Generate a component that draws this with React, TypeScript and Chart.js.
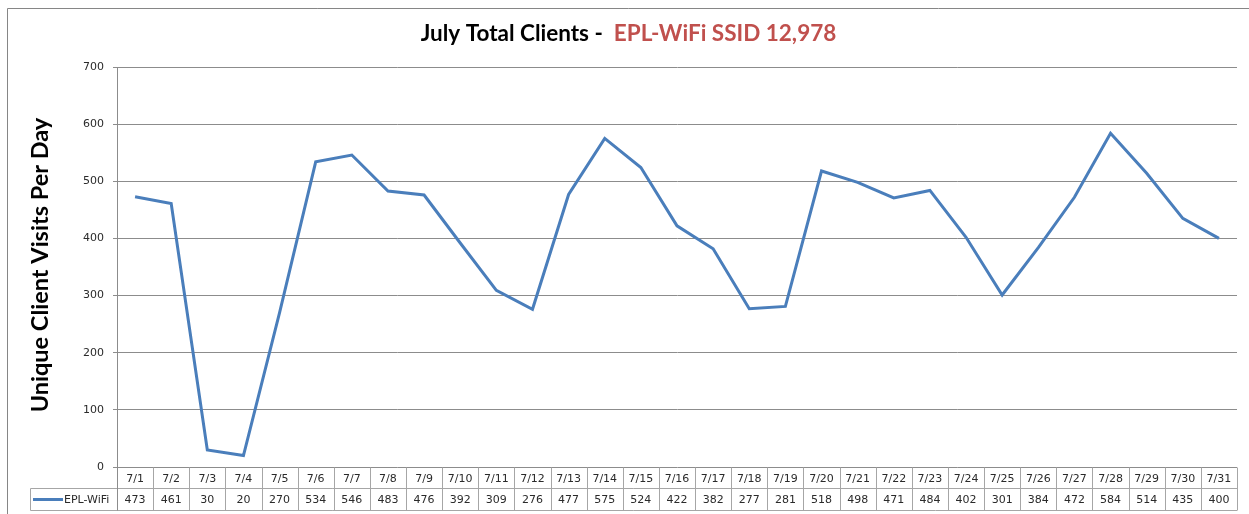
import React, { useEffect, useRef } from "react";
import { Chart, registerables } from "chart.js";

Chart.register(...registerables);

const categories = [
  "7/1", "7/2", "7/3", "7/4", "7/5", "7/6", "7/7", "7/8", "7/9", "7/10",
  "7/11", "7/12", "7/13", "7/14", "7/15", "7/16", "7/17", "7/18", "7/19", "7/20",
  "7/21", "7/22", "7/23", "7/24", "7/25", "7/26", "7/27", "7/28", "7/29", "7/30", "7/31",
];
const seriesName = "EPL-WiFi";
const values = [
  473, 461, 30, 20, 270, 534, 546, 483, 476, 392,
  309, 276, 477, 575, 524, 422, 382, 277, 281, 518,
  498, 471, 484, 402, 301, 384, 472, 584, 514, 435, 400,
];
const yMin = 0;
const yMax = 700;
const yStep = 100;
const titleMain = "July Total Clients -  ";
const titleHighlight = "EPL-WiFi SSID 12,978";
const yAxisTitle = "Unique Client Visits Per Day";

const LINE_COLOR = "#4A7EBB";
const GRID_COLOR = "#8C8C8C";
const TABLE_COLOR = "#A6A6A6";
const TEXT_COLOR = "#2A2A2A";
const TITLE_FONT = "bold 22.5px Lato";
const YTITLE_FONT = "bold 23.5px Lato";
const TABLE_FONT = "11px 'DejaVu Sans'";

const decorPlugin = {
  id: "decor",
  afterDraw(chart: any) {
    const ctx: CanvasRenderingContext2D = chart.ctx;
    const xs = chart.scales.x;
    const area = chart.chartArea;
    ctx.save();

    // outer border
    ctx.strokeStyle = "#868686";
    ctx.lineWidth = 1;
    ctx.beginPath();
    ctx.moveTo(7.5, 514);
    ctx.lineTo(7.5, 8.5);
    ctx.lineTo(1249, 8.5);
    ctx.stroke();

    // title
    ctx.font = TITLE_FONT;
    ctx.textBaseline = "alphabetic";
    ctx.textAlign = "left";
    const w1 = ctx.measureText(titleMain).width;
    const w2 = ctx.measureText(titleHighlight).width;
    const cx = 628.5;
    const tx = cx - (w1 + w2) / 2;
    ctx.fillStyle = "#000000";
    ctx.fillText(titleMain, tx, 41);
    ctx.fillStyle = "#C0504D";
    ctx.fillText(titleHighlight, tx + w1, 41);

    // y-axis title
    ctx.save();
    ctx.translate(48, 265);
    ctx.rotate(-Math.PI / 2);
    ctx.textAlign = "center";
    ctx.fillStyle = "#000000";
    ctx.font = YTITLE_FONT;
    ctx.fillText(yAxisTitle, 0, 0);
    ctx.restore();

    // data table
    const n = categories.length;
    const colW = (area.right - area.left) / n;
    const r0 = Math.round(area.bottom) + 0.5;
    const r1 = r0 + 21;
    const r2 = r1 + 22;
    const legendLeft = 30.5;
    ctx.strokeStyle = TABLE_COLOR;
    ctx.lineWidth = 1;
    ctx.beginPath();
    ctx.moveTo(legendLeft, r1);
    ctx.lineTo(area.right, r1);
    ctx.moveTo(legendLeft, r2);
    ctx.lineTo(area.right, r2);
    ctx.moveTo(legendLeft, r1);
    ctx.lineTo(legendLeft, r2);
    for (let i = 0; i < n; i++) {
      const right = Math.round(xs.getPixelForValue(i) + colW / 2) + 0.5;
      ctx.moveTo(right, r0);
      ctx.lineTo(right, r2);
    }
    ctx.stroke();

    // left axis continues through table
    ctx.strokeStyle = GRID_COLOR;
    ctx.beginPath();
    ctx.moveTo(Math.round(area.left) + 0.5, r0);
    ctx.lineTo(Math.round(area.left) + 0.5, r2);
    ctx.stroke();

    ctx.font = TABLE_FONT;
    ctx.fillStyle = TEXT_COLOR;
    ctx.textAlign = "center";
    ctx.textBaseline = "middle";
    for (let i = 0; i < n; i++) {
      const c = xs.getPixelForValue(i);
      ctx.fillText(categories[i], c, (r0 + r1) / 2 + 1);
      ctx.fillText(String(values[i]), c, (r1 + r2) / 2 + 1);
    }

    // legend key
    ctx.strokeStyle = LINE_COLOR;
    ctx.lineWidth = 3;
    ctx.beginPath();
    ctx.moveTo(33, (r1 + r2) / 2);
    ctx.lineTo(63, (r1 + r2) / 2);
    ctx.stroke();
    ctx.textAlign = "left";
    ctx.fillStyle = TEXT_COLOR;
    ctx.fillText(seriesName, 64, (r1 + r2) / 2 + 1);

    ctx.restore();
  },
};

export default function App() {
  const ref = useRef<HTMLCanvasElement | null>(null);
  useEffect(() => {
    if (!ref.current) return;
    const chart = new Chart(ref.current, {
      type: "line",
      data: {
        labels: categories,
        datasets: [
          {
            label: seriesName,
            data: values,
            borderColor: LINE_COLOR,
            backgroundColor: LINE_COLOR,
            borderWidth: 3,
            pointRadius: 0,
            tension: 0,
            fill: false,
          },
        ],
      },
      options: {
        responsive: false,
        animation: false,
        devicePixelRatio: 1,
        layout: { padding: { left: 0, right: 12, top: 67, bottom: 47 } },
        plugins: {
          legend: { display: false },
          title: { display: false },
          tooltip: { enabled: false },
        },
        scales: {
          x: {
            type: "category",
            display: false,
            offset: true,
          },
          y: {
            min: yMin,
            max: yMax,
            afterFit: (s: any) => {
              s.width = 117;
            },
            ticks: {
              stepSize: yStep,
              padding: 9,
              color: TEXT_COLOR,
              font: { family: "'DejaVu Sans'", size: 11 },
            },
            grid: {
              color: GRID_COLOR,
              tickLength: 4,
              lineWidth: 1,
            },
            border: { color: GRID_COLOR, width: 1 },
          },
        },
      },
      plugins: [decorPlugin],
    });
    return () => chart.destroy();
  }, []);
  return (
    <div style={{ position: "absolute", left: 0, top: 0, width: 1249, height: 514, background: "#fff" }}>
      <canvas ref={ref} width={1249} height={514} style={{ display: "block" }} />
    </div>
  );
}
